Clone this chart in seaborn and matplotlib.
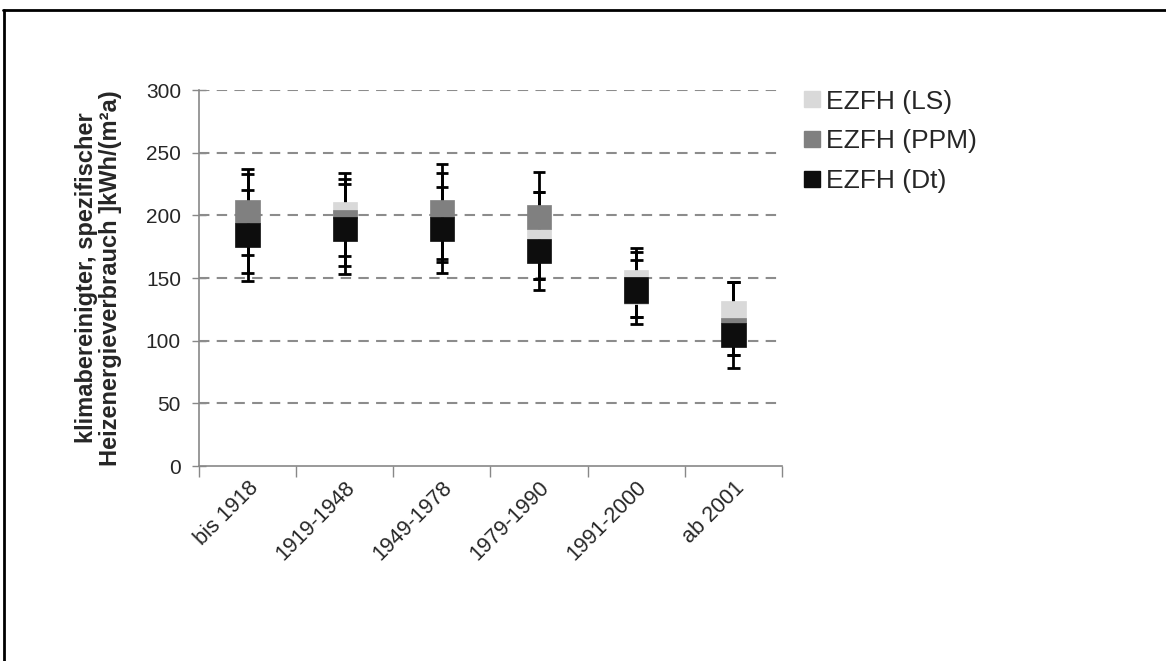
import numpy as np
import matplotlib
matplotlib.use("Agg")
import matplotlib.pyplot as plt
from matplotlib.lines import Line2D
import seaborn as sns

# -----------------------------
# Daten
# -----------------------------
categories = ["bis 1918", "1919-1948", "1949-1978", "1979-1990", "1991-2000", "ab 2001"]
series = ["EZFH (LS)", "EZFH (PPM)", "EZFH (Dt)"]

# sichtbare Boxen je Reihe (unten / oben), None = verdeckt
ls_low = [None, 198.0, None, 180.9, 129.0, 113.9]
ls_high = [None, 210.9, None, 189.1, 156.4, 131.9]
ppm_low = [193.6, 198.0, 198.4, 189.1, None, 113.9]
ppm_high = [212.2, 204.3, 212.2, 208.0, None, 118.3]
dt_low = [175.0, 179.8, 179.5, 161.7, 130.3, 95.2]
dt_high = [193.6, 198.4, 198.4, 180.9, 151.0, 113.9]

# Whisker-Enden je Reihe
ls_whisk_hi = [237.0, 234.0, 241.0, 234.3, 174.2, 146.6]
ppm_whisk_hi = [232.7, 228.7, 234.0, 218.4, 170.5, 146.6]
dt_whisk_hi = [220.2, 224.7, 222.4, 218.4, 164.4, 146.6]
ls_whisk_lo = [147.9, 153.2, 154.2, 140.4, 113.3, 77.9]
ppm_whisk_lo = [153.7, 159.6, 163.0, 149.2, 119.1, 88.3]
dt_whisk_lo = [168.4, 167.6, 165.0, 149.2, 119.1, 88.3]

colors = ["#d9d9d9", "#808080", "#0d0d0d"]
yticks = [0, 50, 100, 150, 200, 250, 300]

# -----------------------------
# Layout
# -----------------------------
sns.set_theme(style="white")
plt.rcParams["font.family"] = ["Liberation Sans", "DejaVu Sans"]

fig = plt.figure(figsize=(11.66, 6.61), dpi=100)
ax = fig.add_axes([199 / 1166, 1 - 466 / 661, (782 - 199) / 1166, (466 - 90) / 661])

x = np.arange(len(categories))

# Whisker
for hi, lo in [(ls_whisk_hi, ls_whisk_lo), (ppm_whisk_hi, ppm_whisk_lo), (dt_whisk_hi, dt_whisk_lo)]:
    ax.vlines(x, lo, hi, color="black", lw=2, zorder=2)
    ax.hlines(hi, x - 0.065, x + 0.065, color="black", lw=2, zorder=2)
    ax.hlines(lo, x - 0.065, x + 0.065, color="black", lw=2, zorder=2)

# Boxen
for lows, highs, col in [(ls_low, ls_high, colors[0]),
                         (ppm_low, ppm_high, colors[1]),
                         (dt_low, dt_high, colors[2])]:
    for i in range(len(categories)):
        if lows[i] is None:
            continue
        ax.bar(x[i], highs[i] - lows[i], bottom=lows[i], width=0.25,
               color=col, edgecolor=col, linewidth=0.5, zorder=3)

# Achsen
ax.set_xlim(-0.5, len(categories) - 0.5)
ax.set_ylim(0, 300)
ax.set_yticks(yticks)
ax.set_yticklabels([str(v) for v in yticks], fontsize=15)
ax.tick_params(axis="y", direction="inout", length=10, width=1, color="#888888", pad=8, left=True)

ax.set_xticks(np.arange(-0.5, len(categories)), minor=False)
ax.set_xticklabels([])
ax.set_xticks(x, minor=True)
ax.set_xticklabels(categories, minor=True, rotation=45, ha="right", rotation_mode="anchor", fontsize=15.5)
ax.tick_params(axis="x", which="major", direction="out", length=8, width=1, color="#888888", bottom=True)
ax.tick_params(axis="x", which="minor", length=0, pad=8)

for v in yticks[1:]:
    ax.axhline(v, color="#8c8c8c", lw=1.5, ls=(0, (5, 3.5)), zorder=1)

for s in ["top", "right"]:
    ax.spines[s].set_visible(False)
for s in ["left", "bottom"]:
    ax.spines[s].set_color("#888888")
    ax.spines[s].set_linewidth(1.2)

ax.set_ylabel("klimabereinigter, spezifischer\nHeizenergieverbrauch ]kWh/(m²a)",
              fontsize=17, fontweight="bold", labelpad=17, linespacing=1.05)

# Legende
handles = [Line2D([], [], marker="s", ls="", markersize=11.5, markerfacecolor=c,
                  markeredgecolor=c) for c in colors]
fig.legend(handles, series, loc="upper left", bbox_to_anchor=(788 / 1166, 1 - 79 / 661),
           frameon=False, fontsize=19, handletextpad=0.05, labelspacing=0.6,
           handlelength=1.0, borderaxespad=0)

# Rahmen
fig.add_artist(Line2D([3 / 1166, 1], [1 - 10 / 661] * 2, color="black", lw=2))
fig.add_artist(Line2D([4 / 1166] * 2, [0, 1 - 10 / 661], color="black", lw=2))

plt.savefig("out.png", dpi=100)
plt.close()
